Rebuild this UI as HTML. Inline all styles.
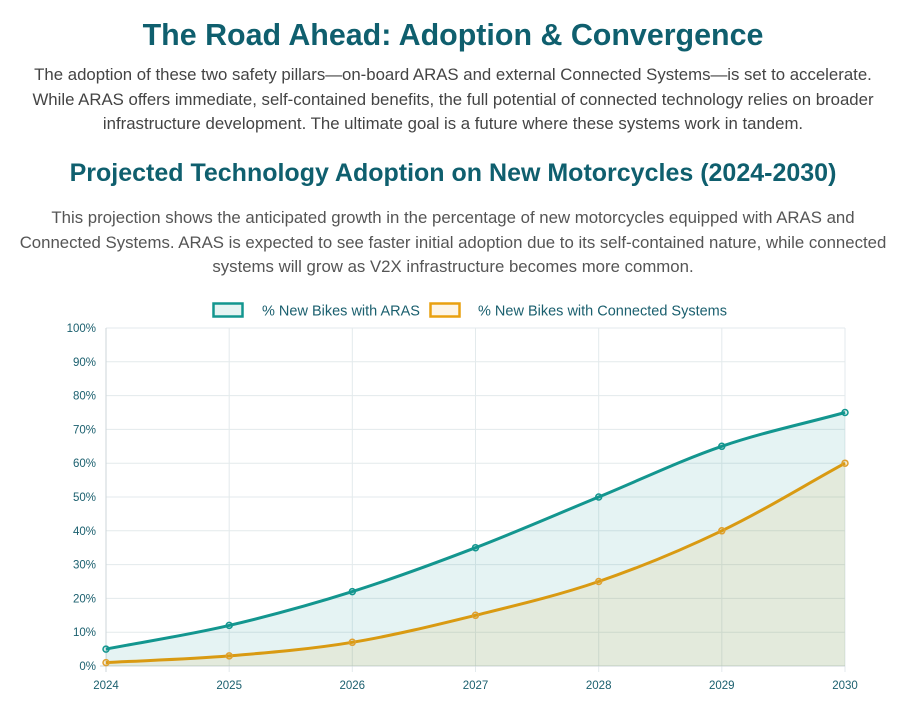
<!DOCTYPE html><html><head><meta charset="utf-8"><style>
body{margin:0;width:906px;height:724px;background:#fff;font-family:"Liberation Sans",sans-serif;overflow:hidden}
h1{position:absolute;top:18px;left:0;width:906px;text-align:center;margin:0;font-size:30.4px;color:#0f5f6e;font-weight:bold}
h2{position:absolute;top:159px;left:0;width:906px;text-align:center;margin:0;font-size:25px;color:#0f5f6e;font-weight:bold}
p{position:absolute;left:0;width:906px;text-align:center;margin:0;font-size:16.8px;line-height:24.5px;color:#444;white-space:nowrap}
</style></head><body>
<h1>The Road Ahead: Adoption &amp; Convergence</h1>
<p style="top:63px">The adoption of these two safety pillars—on-board ARAS and external Connected Systems—is set to accelerate.<br>While ARAS offers immediate, self-contained benefits, the full potential of connected technology relies on broader<br>infrastructure development. The ultimate goal is a future where these systems work in tandem.</p>
<h2>Projected Technology Adoption on New Motorcycles (2024-2030)</h2>
<p style="top:206px;color:#555">This projection shows the anticipated growth in the percentage of new motorcycles equipped with ARAS and<br>Connected Systems. ARAS is expected to see faster initial adoption due to its self-contained nature, while connected<br>systems will grow as V2X infrastructure becomes more common.</p>
<svg style="position:absolute;left:0;top:0" width="906" height="724" font-family="Liberation Sans, sans-serif">
<rect x="213.5" y="303.5" width="29" height="13" fill="#e6f4f3" stroke="#13968f" stroke-width="2.5"/>
<text x="262" y="315.5" font-size="14.5" fill="#1a5f6e">% New Bikes with ARAS</text>
<rect x="430.5" y="303.5" width="29" height="13" fill="#fdf5e6" stroke="#e9a00f" stroke-width="2.5"/>
<text x="478" y="315.5" font-size="14.5" fill="#1a5f6e">% New Bikes with Connected Systems</text>
<g stroke="#e3eaec" stroke-width="1">
<line x1="106" x2="845" y1="328" y2="328"/><line x1="106" x2="845" y1="361.8" y2="361.8"/><line x1="106" x2="845" y1="395.6" y2="395.6"/><line x1="106" x2="845" y1="429.4" y2="429.4"/><line x1="106" x2="845" y1="463.2" y2="463.2"/><line x1="106" x2="845" y1="497" y2="497"/><line x1="106" x2="845" y1="530.8" y2="530.8"/><line x1="106" x2="845" y1="564.6" y2="564.6"/><line x1="106" x2="845" y1="598.4" y2="598.4"/><line x1="106" x2="845" y1="632.2" y2="632.2"/>
<line x1="229.2" x2="229.2" y1="328" y2="672"/><line x1="352.3" x2="352.3" y1="328" y2="672"/><line x1="475.5" x2="475.5" y1="328" y2="672"/><line x1="598.7" x2="598.7" y1="328" y2="672"/><line x1="721.8" x2="721.8" y1="328" y2="672"/><line x1="845" x2="845" y1="328" y2="672"/>
</g>
<line x1="106" x2="106" y1="328" y2="672" stroke="#cdd6d9"/>
<line x1="100" x2="845" y1="666" y2="666" stroke="#cdd6d9"/>
<g font-size="11.5" fill="#1a5f6e" text-anchor="end">
<text x="96" y="332">100%</text><text x="96" y="365.8">90%</text><text x="96" y="399.6">80%</text><text x="96" y="433.4">70%</text><text x="96" y="467.2">60%</text><text x="96" y="501">50%</text><text x="96" y="534.8">40%</text><text x="96" y="568.6">30%</text><text x="96" y="602.4">20%</text><text x="96" y="636.2">10%</text><text x="96" y="670">0%</text>
</g>
<g font-size="11.5" fill="#1a5f6e" text-anchor="middle">
<text x="106" y="689">2024</text><text x="229.2" y="689">2025</text><text x="352.3" y="689">2026</text><text x="475.5" y="689">2027</text><text x="598.7" y="689">2028</text><text x="721.8" y="689">2029</text><text x="845" y="689">2030</text>
</g>
<path d="M106,649.1 C147.1,641.2 188.1,635.0 229.2,625.4 C270.2,615.8 311.2,604.6 352.3,591.6 C393.4,578.6 434.4,563.5 475.5,547.7 C516.6,531.9 557.6,513.9 598.7,497 C639.8,480.1 680.7,460.4 721.8,446.3 C762.9,432.2 803.9,423.8 845,412.5 L845,666 L106,666Z" fill="rgba(19,150,143,0.11)"/>
<path d="M106,662.6 C147.1,660.4 188.1,659.3 229.2,655.9 C270.2,652.5 311.2,649.1 352.3,642.3 C393.4,635.5 434.4,625.4 475.5,615.3 C516.6,605.2 557.6,595.6 598.7,581.5 C639.8,567.4 680.7,550.5 721.8,530.8 C762.9,511.1 803.9,485.7 845,463.2 L845,666 L106,666Z" fill="rgba(217,154,18,0.1)"/>
<path d="M106,649.1 C147.1,641.2 188.1,635.0 229.2,625.4 C270.2,615.8 311.2,604.6 352.3,591.6 C393.4,578.6 434.4,563.5 475.5,547.7 C516.6,531.9 557.6,513.9 598.7,497 C639.8,480.1 680.7,460.4 721.8,446.3 C762.9,432.2 803.9,423.8 845,412.5" fill="none" stroke="#13968f" stroke-width="3"/>
<path d="M106,662.6 C147.1,660.4 188.1,659.3 229.2,655.9 C270.2,652.5 311.2,649.1 352.3,642.3 C393.4,635.5 434.4,625.4 475.5,615.3 C516.6,605.2 557.6,595.6 598.7,581.5 C639.8,567.4 680.7,550.5 721.8,530.8 C762.9,511.1 803.9,485.7 845,463.2" fill="none" stroke="#d99a12" stroke-width="3"/>
<g fill="rgba(19,150,143,0.15)" stroke="#13968f" stroke-width="1.5">
<circle cx="106" cy="649.1" r="3"/><circle cx="229.2" cy="625.4" r="3"/><circle cx="352.3" cy="591.6" r="3"/><circle cx="475.5" cy="547.7" r="3"/><circle cx="598.7" cy="497" r="3"/><circle cx="721.8" cy="446.3" r="3"/><circle cx="845" cy="412.5" r="3"/>
</g>
<g fill="rgba(217,154,18,0.2)" stroke="#e0a030" stroke-width="1.5">
<circle cx="106" cy="662.6" r="3"/><circle cx="229.2" cy="655.9" r="3"/><circle cx="352.3" cy="642.3" r="3"/><circle cx="475.5" cy="615.3" r="3"/><circle cx="598.7" cy="581.5" r="3"/><circle cx="721.8" cy="530.8" r="3"/><circle cx="845" cy="463.2" r="3"/>
</g>
</svg>
</body></html>
